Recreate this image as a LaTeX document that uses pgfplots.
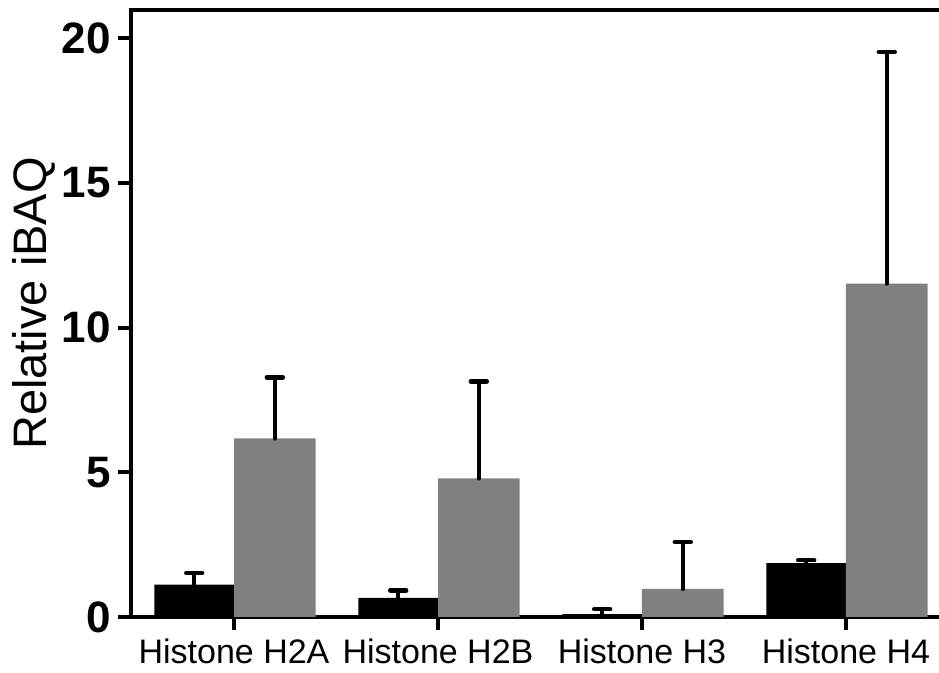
\documentclass[border=0pt]{standalone}
\usepackage{fontspec}
\setmainfont{Liberation Sans}
\usepackage{pgfplots}
\pgfplotsset{compat=1.18}
\definecolor{bargray}{RGB}{128,128,128}
\begin{document}
\begin{tikzpicture}
\begin{axis}[
 scale only axis, width=404pt, height=303.5pt,
 xmin=-0.505, xmax=3.456, ymin=0, ymax=20.97,
 axis x line*=bottom, axis y line*=left,
 axis line style={line width=2pt, black},
 xtick={0,1,2,3},
 xticklabels={Histone H2A, Histone H2B, Histone H3, Histone H4},
 ytick={0,5,10,15,20},
 tick align=outside, major tick length=6.5pt,
 tick style={line width=2pt, black},
 yticklabel style={font=\fontsize{22}{24}\selectfont\bfseries},
 xticklabel style={font=\fontsize{17}{19}\selectfont, yshift=-1pt},
 ylabel={Relative iBAQ},
 ylabel style={font=\fontsize{23.5}{26}\selectfont, xshift=5pt, yshift=-3.5pt},
 /pgf/number format/assume math mode=true,
 clip=false,
 errb/.style={draw=none, mark=none,
  error bars/.cd, y dir=plus, y explicit,
  error bar style={line width=2.2pt, black, line cap=round},
  error mark options={line width=2.2pt, black, mark size=4pt, rotate=90, line cap=round}},
]
% control
\addplot[ybar, bar width=0.39, bar shift=-0.195, fill=black, draw=none]
 coordinates {(0,1.12) (1,0.66) (2,0.10) (3,1.86)};
% treated
\addplot[ybar, bar width=0.40, bar shift=0.2, fill=bargray, draw=none]
 coordinates {(0,6.17) (1,4.79) (2,0.97) (3,11.52)};
% error bars (upper only), placed at bar centres
\addplot[errb] coordinates {(-0.195,1.12) +- (0,0.40) (0.805,0.66) +- (0,0.26) (1.805,0.10) +- (0,0.17) (2.805,1.86) +- (0,0.10)};
\addplot[errb] coordinates {(0.2,6.17) +- (0,2.11) (1.2,4.79) +- (0,3.35) (2.2,0.97) +- (0,1.62) (3.2,11.52) +- (0,8.00)};
\coordinate (bl) at (rel axis cs:0,0);
\coordinate (tr) at (rel axis cs:1,1);
\coordinate (tl) at (rel axis cs:0,1);
\end{axis}
\draw[line width=2pt, line cap=rect] (tl) -- (tr);
\pgfresetboundingbox
\path ([shift={(-65.5pt,-28pt)}]bl) rectangle ([shift={(0pt,5pt)}]tr);
\end{tikzpicture}
\end{document}
